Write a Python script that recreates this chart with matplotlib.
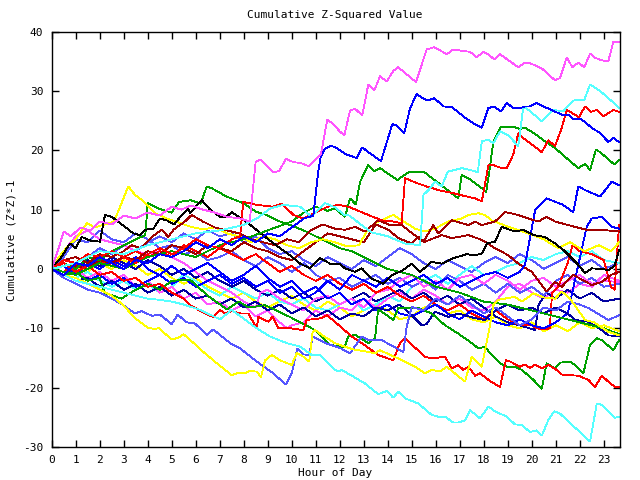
import matplotlib
matplotlib.use("Agg")
import matplotlib.pyplot as plt

# ---- data: (hour, cumulative value) pairs ----
mag1 = [(0,0),(0.25,3),(0.5,6.3),(0.8,5.5),(1.2,7),(1.6,6.5),(2.0,8),(2.5,7.5),(3.0,9),(3.5,8.5),(4.0,9.5),(4.5,9),
        (5.0,10.5),(5.4,10),(5.8,10.7),(6.3,10),(6.8,9.5),(7.3,8.8),(7.85,8.5),(8.25,8.0),(8.5,18.1),(8.7,18.4),(9.23,16.3),
        (9.48,16.5),(9.76,18.6),(10.07,18.0),(10.35,17.9),(10.72,17.3),(11.22,19.4),(11.29,20.9),(11.48,25.2),(11.73,24.4),
        (12.0,23.2),(12.19,22.5),(12.43,26.7),(12.64,27.0),(12.94,25.9),(13.19,31.1),(13.44,30.1),(13.68,32.5),(13.96,31.6),
        (14.23,33.4),(14.44,34.0),(15.18,31.5),(15.62,37.0),(15.94,37.4),(16.46,36.2),(16.73,37.0),(17.43,36.6),(17.71,35.7),
        (17.98,36.6),(18.19,36.2),(18.44,35.3),(18.68,36.2),(19.44,34.0),(19.69,34.7),(19.93,34.7),(20.42,33.8),(20.97,31.8),
        (21.18,32.2),(21.46,35.7),(21.69,34.0),(21.94,34.8),(22.19,34.0),(22.43,36.3),(22.64,35.6),(22.89,35.2),(23.19,35.0),
        (23.40,38.3),(23.64,38.2)]
blue1 = [(0,0),(0.5,-1),(1,1),(1.5,0.5),(2,2),(2.5,1),(3,0),(3.5,1.5),(4,1),(4.5,2.5),(5,2),(5.5,3),(6,4.5),(6.5,3.5),
         (7,5),(7.5,4),(8,5.5),(8.5,4.5),(9,6),(9.5,5.5),(10,7),(10.5,8.5),(10.9,9),(11.1,16.3),(11.2,18.7),(11.39,20.3),
         (11.6,20.7),(11.8,20.6),(12.22,19.4),(12.7,18.7),(12.94,20.5),(13.19,19.7),(13.72,18.2),(14.19,24.4),(14.37,24.2),
         (14.69,22.9),(14.93,27.1),(15.21,29.5),(15.42,28.9),(15.67,28.4),(15.94,28.8),(16.32,27.4),(16.67,27.3),(17.29,25.3),
         (17.64,24.4),(17.92,23.8),(18.19,27.1),(18.4,27.4),(18.72,26.6),(18.96,28.0),(19.23,27.1),(19.51,27.1),(19.72,27.4),
         (19.93,27.4),(20.2,28.0),(20.48,27.4),(20.83,26.8),(21.25,26.0),(21.53,26.0),(21.73,25.3),(22.05,25.3),(22.5,23.8),
         (22.85,22.9),(23.19,21.4),(23.4,22.1),(23.64,21.4)]
cyan1 = [(0,0),(1,1),(2,3),(3,2.5),(4,4),(5,5),(6,6),(7,6.5),(7.98,7.4),(8.54,8.5),(9.1,10.2),(9.65,10.8),(10.35,10.5),
         (10.83,8.8),(11.39,11.1),(11.8,10.4),(12.2,9.1),(12.4,9),(13.3,6.2),(14,5.5),(14.7,4.3),(15.35,4.0),(15.49,12.5),
         (15.7,13.3),(15.97,14.7),(16.25,13.9),(16.5,16.4),(17.1,17.0),(17.6,16.5),(17.75,16.3),(17.92,21.5),(18.19,21.8),
         (18.4,21.2),(18.68,23.2),(19.03,22.5),(19.44,20.7),(19.65,27.4),(19.93,26.6),(20.42,24.9),(20.9,26.8),(21.32,26.6),
         (21.73,28.4),(22.19,28.5),(22.43,31.1),(22.85,30.0),(23.33,28.3),(23.64,27.1)]
green1 = [(0,0),(1,-1),(2,1),(3,0),(4,2),(5,3),(6,2),(7,4),(8,5),(9,6.5),(10,8),(10.5,9.5),(11,10.5),(11.5,9.8),
          (11.8,10.2),(12.22,8.8),(12.43,11.9),(12.67,10.9),(12.85,14.7),(13.19,17.5),(13.44,16.5),(13.68,17.0),(14.4,15.0),
          (14.9,16.4),(15.5,16.4),(16.94,11.9),(17.08,15.8),(17.36,15.3),(17.92,13.6),(18.1,13.0),(18.23,16.3),(18.4,21.5),
          (18.72,24.0),(19.03,23.9),(19.23,24.0),(19.51,23.6),(19.72,23.8),(20.2,22.6),(20.55,21.5),(20.97,20.4),(21.53,18.4),
          (21.94,17.0),(22.22,17.7),(22.43,16.7),(22.67,20.1),(22.85,19.7),(23.44,17.6),(23.64,18.4)]
red1 = [(0,0),(0.5,1.5),(1,1),(1.5,2.5),(2,2),(2.5,3),(3,2),(3.5,1),(4,2.5),(4.5,3.5),(5,2.5),(5.5,3.5),(6,5),(6.5,4),
        (7,3.5),(7.5,5),(7.85,5.5),(7.98,11.3),(8.54,10.8),(9.23,10.5),(9.6,11),(10.07,9.1),(10.5,8.5),(11,9.5),(11.5,10.5),
        (11.94,10.8),(12.36,10.5),(13.19,9.1),(13.75,8.2),(14.23,8.0),(14.58,7.7),(14.72,15.3),(15.2,14.5),(15.7,13.8),
        (16.2,13.2),(16.7,12.8),(17.2,12.3),(17.64,11.9),(17.92,11.4),(18.2,17.6),(18.4,17.5),(18.68,17.1),(18.96,17.0),
        (19.23,19.3),(19.44,22.9),(19.51,22.5),(19.93,21.2),(20.42,19.7),(20.69,21.7),(20.97,20.7),(21.25,23.8),(21.46,26.8),
        (21.67,26.3),(21.97,25.6),(22.22,27.4),(22.47,26.5),(22.71,26.8),(22.98,25.7),(23.4,26.8),(23.64,26.5)]
cyan2 = [(0,0),(0.5,-1),(1,-2),(1.5,-2.5),(2,-3),(2.5,-3.5),(3,-4),(3.5,-4.5),(4,-5),(4.5,-5.2),(5,-5.5),(5.5,-6),
         (6.19,-6.9),(7.01,-8.5),(7.5,-6.9),(8.54,-10.0),(9.1,-11.4),(9.79,-12.5),(10.35,-13.1),(10.83,-14.5),(11.18,-14.5),
         (11.8,-17.0),(11.94,-17.3),(12.08,-17.0),(13.05,-19.3),(13.6,-21.1),(13.96,-20.6),(14.23,-21.7),(14.44,-20.7),
         (14.72,-21.8),(15.28,-22.7),(15.83,-24.6),(16.1,-24.9),(16.39,-24.9),(16.73,-25.9),(16.94,-25.9),(17.22,-25.5),
         (17.43,-23.8),(17.85,-25.2),(18.19,-23.2),(18.47,-24.0),(18.96,-24.9),(19.3,-26.2),(19.58,-26.3),(19.93,-27.5),
         (20.2,-27.2),(20.42,-28.1),(20.69,-25.5),(20.94,-24.0),(21.18,-24.4),(22.43,-29.1),(22.71,-22.7),(22.92,-22.9),
         (23.47,-25.1),(23.64,-24.9)]
yellow1 = [(0,0),(0.5,-1),(1,-1.5),(1.5,-2.5),(2,-3.5),(2.5,-4.5),(2.98,-6.1),(3.47,-8.3),(4.0,-9.9),(4.24,-10.1),
           (4.47,-10.0),(5.0,-11.9),(5.28,-11.6),(5.49,-11.0),(5.97,-12.7),(6.32,-14.0),(6.88,-15.9),(7.5,-17.9),(7.71,-17.6),
           (8.05,-17.6),(8.26,-17.2),(8.54,-17.3),(8.72,-18.2),(8.89,-15.4),(9.17,-14.5),(9.51,-15.4),(10.0,-16.2),
           (10.21,-14.2),(10.49,-14.8),(10.73,-15.6),(10.87,-10.6),(10.97,-10.3),(11.4,-11.5),(11.8,-12.5),(12.5,-13.5),
           (13.47,-14.2),(13.68,-13.7),(14.44,-15.1),(15.14,-16.5),(15.55,-17.6),(15.83,-17.0),(16.18,-17.3),(16.46,-16.5),
           (17.22,-19.0),(17.5,-14.8),(17.92,-16.5),(18.26,-9.5),(18.4,-6.1),(18.6,-5.2),(19.3,-4.7),(19.6,-5.5),(20.07,-4.1),
           (20.5,-4.8),(20.97,-5.0),(21.25,-3.8),(21.6,-5),(22.22,-8.6),(22.6,-9),(23.19,-10.6),(23.64,-11.2)]
slate1 = [(0,0),(0.5,-1.5),(1,-2.5),(1.5,-3.5),(2,-4),(2.5,-5),(2.98,-6.1),(3.47,-7.5),(3.75,-7.1),(4.17,-7.9),(4.51,-7.7),
          (5.0,-9.3),(5.25,-7.7),(5.62,-9.0),(5.97,-9.2),(6.46,-11.1),(6.73,-10.2),(7.43,-12.5),(7.85,-13.4),(8.54,-15.6),
          (9.23,-17.6),(9.76,-19.5),(10.0,-17.6),(10.24,-13.4),(10.49,-14.4),(10.73,-14.5),(10.87,-11.4),(11.4,-12.5),
          (12.0,-13.3),(12.43,-14.2),(12.92,-11.4),(13.19,-12.0),(13.75,-12.0),(14.65,-14.0),(14.79,-9.7),(15.0,-6.4),
          (15.5,-7),(16,-5),(16.5,-6),(17,-4.5),(17.5,-6),(18,-7.5),(18.5,-6.5),(19,-8),(19.5,-9.5),(20,-8.5),(20.5,-6.5),
          (21,-7),(21.5,-5.5),(22,-6),(22.36,-6.6),(23.19,-8.6),(23.64,-7.8)]
red2 = [(0,0),(0.5,1),(1,-0.5),(1.5,0.5),(2,-1),(2.5,-0.5),(3,-2),(3.5,-1.5),(4,-3),(4.5,-2.5),(5,-4),(5.5,-5),(5.76,-6.1),
        (6.53,-7.8),(6.73,-8.1),(7.01,-6.9),(7.22,-7.5),(7.5,-7.1),(7.85,-7.5),(8.19,-7.5),(8.54,-10.0),(8.61,-8.1),(9.03,-8.9),
        (9.2,-8),(9.44,-10.0),(9.93,-10.0),(10.49,-10.3),(10.62,-8.6),(11.25,-8.3),(11.46,-7.8),(11.8,-8.9),(12.5,-11.4),
        (12.92,-12.5),(13.6,-14.5),(14.23,-15.4),(14.51,-12.5),(14.72,-11.7),(15.55,-14.8),(15.83,-15.1),(16.39,-14.8),
        (16.67,-16.8),(16.94,-16.2),(17.15,-17.0),(17.36,-16.5),(17.64,-18.0),(17.85,-17.6),(18.26,-18.9),(18.68,-19.9),
        (18.92,-15.4),(19.1,-15.6),(19.51,-16.5),(19.72,-16.1),(19.93,-16.7),(20.14,-16.1),(20.42,-16.8),(20.69,-16.2),
        (20.97,-16.8),(21.25,-17.8),(21.53,-17.9),(21.94,-18.0),(22.36,-18.7),(22.64,-19.9),(22.92,-18.0),(23.19,-19.0),
        (23.47,-19.9),(23.64,-19.9)]
green2 = [(0,0),(0.5,-1),(1,-0.5),(1.5,-2),(2,-1.5),(2.2,-4),(2.9,-5),(3.5,-3.5),(4,-2.5),(4.5,-3.5),(5,-2),(5.76,-1.8),
          (6.5,-4.5),(7.3,-6.8),(7.8,-5.5),(8.2,-6.5),(8.89,-6.1),(9.93,-8.1),(10.97,-10.3),(11.6,-12.8),(12.0,-13.1),
          (12.2,-13.2),(12.35,-11.4),(12.64,-11.1),(13.19,-12.5),(13.47,-11.7),(13.6,-6.9),(13.75,-7.2),(14.23,-8.6),
          (14.44,-6.6),(15.28,-6.6),(15.83,-7.5),(16.39,-9.5),(16.94,-10.9),(17.5,-12.5),(17.78,-13.4),(18.05,-13.1),
          (18.33,-14.5),(18.68,-15.9),(18.96,-16.5),(19.3,-16.5),(19.58,-17.0),(20.07,-18.7),(20.42,-20.2),(20.62,-15.9),
          (20.97,-16.8),(21.18,-15.8),(21.6,-15.6),(21.8,-16.2),(22.15,-17.6),(22.43,-12.8),(22.71,-11.7),(22.92,-12.0),
          (23.4,-13.7),(23.64,-12.0)]
green3 = [(0,0),(0.5,1),(1,0),(1.5,2),(2,1.5),(2.5,3),(3,4),(3.5,5),(3.9,5.7),(4.0,11.1),(4.43,10.2),(5,9.5),(5.3,11.3),
          (5.8,11.6),(6.2,11.0),(6.46,13.9),(6.67,13.6),(7.29,12.2),(7.98,11.1),(8.54,9.6),(8.96,9.1),(9.51,8.0),(9.93,7.4),
          (10.5,6.5),(11,5.5),(11.5,4.5),(12,3.5),(12.5,3),(13,2),(13.5,1),(14,0),(15,-1),(16,-3),(17,-4),(18,-5.5),(19,-6),
          (20,-7),(21,-8),(22,-9),(23,-10),(23.64,-11)]
black1 = [(0,0),(0.4,2),(0.76,4.3),(1.0,3.5),(1.25,5.4),(1.6,4.8),(2.01,4.6),(2.22,9.1),(2.5,8.8),(3.05,7.1),(3.4,6.0),
          (3.68,5.7),(3.89,6.6),(4.24,6.8),(4.51,8.5),(4.79,8.2),(5.1,7.5),(5.42,9.1),(5.69,10.2),(5.76,9.4),(6.25,11.6),
          (6.6,10),(7.01,8.8),(7.29,8.8),(7.5,9.6),(8.19,7.7),(8.96,5.2),(9.51,3.5),(9.93,2.3),(10.35,0.9),(10.76,0.1),
          (11.18,1.8),(11.6,0.9),(12.0,0.9),(12.22,0.1),(12.64,-0.5),(12.92,0.1),(13.33,-1.6),(13.8,-2.5),(14.2,-1),
          (14.6,-0.3),(15.0,0.9),(15.35,-0.5),(15.83,1.2),(16.25,0.9),(16.73,1.8),(17.29,2.5),(17.64,2.3),(17.92,2.6),
          (18.13,4.3),(18.47,4.6),(18.75,7.1),(19.3,6.3),(19.65,6.6),(20.07,5.7),(20.55,5.4),(20.97,4.3),(21.32,3.2),
          (21.67,1.8),(21.94,0.7),(22.22,-0.7),(22.5,0.1),(22.92,0),(23.19,-0.2),(23.45,0.5),(23.64,3.2)]
darkred1 = [(0,0),(0.5,1.5),(1,2),(1.5,1),(2,2.5),(2.5,2),(3,3),(3.33,4.0),(3.7,3.5),(4.17,5.4),(4.58,6.6),(4.86,5.4),
            (5.07,6.6),(5.55,8.0),(5.83,9.1),(6.3,8),(6.8,7),(7.3,6.5),(7.8,6),(8.3,5),(8.8,4.5),(9.3,4),(9.8,5),(10.3,4.5),
            (10.8,6.5),(11.3,7.5),(11.8,6.8),(12.22,6.6),(12.64,7.1),(13.05,6.3),(13.6,8.2),(14.1,7.4),(14.58,7.4),
            (15.28,5.2),(15.49,4.6),(15.9,7.4),(16.1,6.0),(16.67,8.2),(17.36,7.4),(17.64,8.0),(17.92,7.4),(18.47,8.0),
            (18.89,9.6),(19.44,9.1),(19.86,8.5),(20.28,8.0),(20.62,8.8),(20.97,8.0),(21.8,7.1),(22.29,6.6),(22.92,6.6),
            (23.64,6.3)]
darkred2 = [(0,0),(0.5,-1),(1,0.5),(1.5,0),(2,1.5),(2.5,1),(3,2),(3.5,1.5),(4,3),(4.5,2.5),(5,4),(5.5,3.5),(6,2.5),
            (6.5,4),(7,3.5),(7.5,3),(8,4.5),(8.5,3.5),(9,3),(9.5,2),(10,1.5),(10.5,3),(11,4.5),(11.5,6),(12,5.5),(12.5,5),
            (13,4.5),(13.5,7.5),(14.03,6.6),(14.44,5.2),(15.0,4.3),(15.28,5.4),(15.55,4.6),(16.25,5.7),(16.67,5.2),
            (17.36,5.7),(17.92,4.9),(18.05,4.6),(18.47,3.5),(19.03,2.3),(19.44,0.9),(20.0,-0.5),(20.62,-3.8),(20.97,-2.2),
            (21.25,-3.0),(21.73,-1.0),(22.5,-2.7),(22.92,-2.2),(23.3,-1),(23.64,-0.5)]
yellow2 = [(0,0),(0.3,2),(0.7,4),(1.0,5),(1.46,7.7),(1.8,7),(2.2,7.5),(2.6,8),(3.19,13.9),(3.47,12.5),(3.8,11.5),(4.3,9.4),
           (4.8,8.5),(5.3,7.8),(5.8,7.1),(6.3,6.7),(6.8,7),(7.3,6),(7.8,5.5),(8.3,4.5),(8.8,5.5),(9.3,5),(9.8,4),(10.3,3.5),
           (10.8,4.5),(11.3,5),(11.8,4.5),(12.3,3.8),(12.8,4),(13.19,6.8),(13.47,7.7),(14.23,9.1),(14.58,8.2),(15.14,6.8),
           (15.55,6.3),(15.97,6.8),(16.53,8.0),(17.08,8.5),(17.36,9.1),(17.78,9.4),(18.05,9.1),(18.33,8.2),(19.03,7.1),
           (19.86,6.0),(20.5,5),(21.1,3.5),(21.6,4.5),(22.2,3),(22.8,4),(23.3,3),(23.64,4.5)]
yellow3 = [(0,0),(0.5,-1),(1,0.5),(1.5,-0.5),(2,1),(2.5,0),(3,1.5),(3.5,0.5),(4,-1),(4.5,0),(5,-1.5),(5.5,-2.5),(6,-1.5),
           (6.5,-3),(7,-4),(7.5,-5),(8,-4),(8.5,-5.5),(9,-6.5),(9.5,-5.5),(10,-4.5),(10.5,-6),(11,-7),(11.5,-5.5),(12,-6.5),
           (12.5,-8),(13,-7),(13.5,-6),(14,-7),(14.5,-8.5),(15,-8),(15.5,-6.5),(16,-6),(16.5,-7.5),(17,-7),(17.5,-8.5),
           (18,-9),(18.5,-8),(19,-9.5),(19.5,-10),(20,-9),(20.5,-10.5),(21,-9.5),(21.5,-10.5),(22,-9),(22.5,-10),(23,-9.5),
           (23.64,-10.5)]
blue2 = [(0,0),(0.5,-1),(1,-0.5),(1.5,-2),(2,-1),(2.5,-2.5),(3,-1.5),(3.5,-3),(4,-2),(4.5,-1),(5,-2.5),(5.5,-1.5),(6,-3),
         (6.5,-2),(7,-1),(7.5,-2.5),(8,-1.5),(8.5,-3),(9,-2),(9.5,-4),(10,-3),(10.5,-5),(11,-4),(11.5,-2),(12,-3.5),
         (12.5,-1),(13,-2),(13.5,-3),(14,-1.5),(14.5,-3),(15,-2),(15.5,-1),(16,-2.5),(16.5,-1.5),(17,-3),(17.5,-2),(18,-1),
         (18.5,-0.5),(19,-1.5),(19.5,-0.5),(19.72,0.7),(20.14,9.9),(20.62,11.9),(21.25,10.9),(21.73,9.6),(21.94,13.9),
         (22.22,13.3),(22.85,12.2),(23.33,14.7),(23.64,14.1)]
blue3 = [(0,0),(0.5,0.5),(1,-1),(1.5,1),(2,0),(2.5,1.5),(3,0.5),(3.5,2),(4,0),(4.5,-1),(5,0.5),(5.5,-1),(6,0),(6.5,1),
         (7,-0.5),(7.5,-2),(8,-1),(8.5,0.5),(9,-1.5),(9.5,-3),(10,-2),(10.5,-4),(11,-3),(11.5,-5),(12,-4),(12.5,-6),(13,-5),
         (13.5,-7),(14,-6),(14.5,-7.5),(15,-8),(15.5,-7),(16,-6),(16.5,-7.5),(17,-8.5),(17.5,-7),(18,-8),(18.5,-9),
         (19,-9.5),(19.5,-8.5),(20,-9.5),(20.5,-10),(21,-9),(21.5,-7.5),(21.94,0.7),(22.29,7.1),(22.5,8.5),(22.92,8.8),
         (23.33,7.1),(23.64,6.8)]
red3 = [(0,0),(0.5,-0.5),(1,1),(1.5,0),(2,1.5),(2.5,0.5),(3,2),(3.5,3),(4,2),(4.5,3),(5,2),(5.5,4),(6,3),(6.5,2),(7,3.5),
        (7.5,2.5),(8,1.5),(8.5,2.5),(9,1),(9.5,-0.5),(10,0.5),(10.5,-1),(11,-2),(11.5,-1),(12,-2.5),(12.5,-3.5),(13,-2.5),
        (13.5,-4),(14,-3),(14.5,-4.5),(15,-5.5),(15.5,-4.5),(16,-6),(16.5,-7),(17,-6),(17.5,-7.5),(18,-8.5),(18.5,-7),
        (19,-8.5),(19.5,-9.5),(20,-9.5),(20.2,-10),(20.5,-10.2),(20.75,-10),(20.85,-4),(21.1,-3),(21.5,1),(21.7,4),(22,3),
        (22.5,2.5),(23,1.5),(23.3,-3),(23.45,-3.5),(23.64,7.5)]
mag2 = [(0,0),(0.5,3),(1,5.5),(1.5,6.5),(2,5),(2.5,4.5),(3,4),(3.5,3),(4,2.5),(4.5,3),(5,2),(5.5,1),(6,-0.5),(6.5,-2),
        (7,-3),(7.5,-4),(8,-5.5),(8.5,-6.5),(8.7,-4),(9,-3.5),(9.5,-5),(10,-6),(10.5,-7),(11,-5),(11.5,-4.5),(12,-6),
        (12.5,-5),(13,-6.5),(13.5,-4),(14,-3.5),(14.5,-2),(15,-1),(15.5,-3),(16,-2),(16.5,-3.5),(17,-1.5),(17.5,-1),
        (18,-2.5),(18.5,-1),(19,-2),(19.5,-3.5),(20,-2),(20.5,-1.5),(21,-3),(21.5,-2),(22,-1),(22.5,-2.5),(23,-2),(23.64,-2.2)]
mag3 = [(0,0),(0.5,-1),(1,0),(1.5,-1.5),(2,-0.5),(2.5,-2),(3,-1),(3.5,-3),(4,-2),(4.5,-4),(5,-3),(5.5,-5),(6,-4),(6.5,-6),
        (7,-5.5),(7.5,-7),(8,-6),(8.5,-8),(9,-7),(9.5,-9),(9.8,-10),(10,-9.5),(10.5,-9),(11,-7),(11.5,-8),(12,-6.5),
        (12.5,-7),(13,-5),(13.5,-6.5),(14,-5),(14.5,-4),(15,-5),(15.5,-3.5),(16,-4.5),(16.5,-6),(17,-5),(17.5,-6.5),(18,-7),
        (18.5,-5.5),(19,-3),(19.5,-2.5),(20,-4),(20.5,-5),(21,-3.5),(21.5,-4),(22,-2.5),(22.5,-3),(23,-1),(23.64,-2)]
slate2 = [(0,0),(0.5,2),(1,5),(1.5,4.5),(2,6.5),(2.5,5),(3,4.5),(3.5,6),(4,5),(4.5,3.5),(5,4),(5.5,2.5),(6,3),(6.5,1.5),
          (7,2),(7.5,3),(8,1.5),(8.5,0.5),(9,2),(9.5,1),(10,-0.5),(10.5,1),(11,-1),(11.5,-2),(12,-1.5),(12.5,-3),(13,-2),
          (13.5,-1),(14,-2.5),(14.5,-1.5),(15,-3),(15.5,-2),(16,-3.5),(16.5,-1),(17,-2),(17.5,-3.5),(18,-2.5),(18.5,-4),
          (19,-2.5),(19.5,-4),(20,-3),(20.5,-4.5),(21,-2),(21.5,-1),(22,-2.5),(22.5,-1.5),(23,-3),(23.64,-2.5)]
slate3 = [(0,0),(0.5,-0.5),(1,1),(1.5,2),(2,3.5),(2.5,2.5),(3,4),(3.5,3),(4,4.5),(4.5,5.5),(5,4.5),(5.5,6),(6,5),(6.5,6.5),
          (7,5.5),(7.5,6),(8,4.5),(8.5,5.5),(9,3.5),(9.5,2.5),(10,3),(10.5,1.5),(11,0.5),(11.5,2),(12,1),(12.5,0),(13,1.5),
          (13.5,0.5),(14,2),(14.5,3.5),(15,2.5),(15.5,1),(16,0),(16.5,1.5),(17,0.5),(17.5,-0.5),(18,1),(18.5,2),(19,1),
          (19.5,2.5),(20,1.5),(20.5,0),(21,1),(21.5,2),(22,0.5),(22.5,1.5),(23,0),(23.64,1)]
cyan3 = [(0,0),(0.5,-1),(1,-1.5),(1.5,-0.5),(2,-2),(2.5,-3),(3,-2),(3.5,-3.5),(4,-2.5),(4.5,-4),(5,-3),(5.5,-1),(6,-2),
         (6.5,-3.5),(7,-4.5),(7.5,-3),(8,-4),(8.5,-5),(9,-4),(9.5,-5.5),(10,-6),(10.5,-5),(11,-6.5),(11.5,-7),(12,-6),
         (12.5,-5),(13,-7),(13.5,-6),(14,-4.5),(14.5,-5.5),(15,-3),(15.5,-2),(16,-1),(16.5,-2.5),(17,-1),(17.5,0.5),(18,-1),
         (18.5,-0.5),(19,0.5),(19.5,1),(20,2),(20.5,1.5),(21,2.5),(21.5,3),(22,2),(22.5,3),(23,1.5),(23.64,1)]
navy1 = [(0,0),(0.5,-1),(1,-2),(1.5,-1.5),(2,-3),(2.5,-2),(3,-3.5),(3.5,-2.5),(4,-4),(4.5,-3),(5,-4.5),(5.5,-3.5),(6,-5),
         (6.5,-4.5),(7,-6),(7.5,-5),(8,-6.5),(8.5,-5.5),(9,-7),(9.5,-6),(10,-7.5),(10.5,-6.5),(11,-8),(11.5,-7),(12,-8.5),
         (12.5,-7.5),(13,-8),(13.5,-6.5),(14,-7),(14.5,-6),(15,-7.8),(15.42,-9.5),(15.62,-9.3),(15.97,-7.2),(16.53,-8.1),
         (16.94,-7.5),(17.64,-8.3),(18.05,-8.6),(18.5,-7),(19,-6),(19.5,-7),(20,-6.5),(20.5,-7.5),(21,-6.5),(21.5,-7.5),
         (21.8,-8.6),(22.36,-8.9),(22.92,-10.3),(23.19,-11.2),(23.64,-11.3)]
navy2 = [(0,0),(0.5,1),(1,0),(1.5,1.5),(2,0.5),(2.5,2),(3,1),(3.5,0),(4,1.5),(4.5,0.5),(5,-1),(5.5,0),(6,-1.5),(6.5,-0.5),
         (7,-2),(7.5,-3),(8,-2),(8.5,-3.5),(9,-4.5),(9.5,-3.5),(10,-5),(10.5,-4),(11,-5.5),(11.5,-4.5),(12,-6),(12.5,-5),
         (13,-4),(13.5,-5.5),(14,-4.5),(14.5,-3.5),(15,-5),(15.5,-4),(16,-5.5),(16.5,-4.5),(17,-6),(17.5,-5),(18,-6.5),
         (18.5,-8),(19,-9),(19.5,-9.5),(20.14,-10.3),(20.28,-6.1),(20.6,-4),(21,-5),(21.5,-3.5),(22,-5),(22.5,-4),(23,-5.5),
         (23.64,-5)]

MAGENTA, BLUE, CYAN, GREEN, RED = "#ff55ff", "#0000ff", "#55ffff", "#00a000", "#ff0000"
DARKRED, YELLOW, SLATE, BLACK, NAVY = "#a00000", "#ffff00", "#5555ff", "#000000", "#0000a0"

series = [
    (yellow3, YELLOW), (slate3, SLATE), (cyan3, CYAN), (mag3, MAGENTA), (navy2, NAVY), (slate2, SLATE),
    (mag2, MAGENTA), (red3, RED), (blue3, BLUE), (navy1, NAVY), (darkred2, DARKRED), (blue2, BLUE),
    (green3, GREEN), (yellow2, YELLOW), (darkred1, DARKRED), (black1, BLACK), (green2, GREEN),
    (red2, RED), (slate1, SLATE), (yellow1, YELLOW), (cyan2, CYAN), (green1, GREEN), (red1, RED),
    (cyan1, CYAN), (blue1, BLUE), (mag1, MAGENTA),
]

hour_ticks = list(range(0, 24))
value_ticks = list(range(-30, 41, 10))

FONT = "DejaVu Sans Mono"
fig = plt.figure(figsize=(6.4, 4.8), dpi=100)
ax = fig.add_axes([51.7 / 640, (480 - 446.9) / 480, (620.3 - 51.7) / 640, (446.9 - 31.7) / 480])

for pts, col in series:
    hs = [p[0] for p in pts]
    vs = [p[1] for p in pts]
    ax.plot(hs, vs, color=col, lw=0.6, antialiased=False, solid_joinstyle="miter")

ax.set_xlim(0, 23.69)
ax.set_ylim(-30, 40)
ax.set_xticks(hour_ticks)
ax.set_yticks(value_ticks)
ax.set_xticklabels([str(h) for h in hour_ticks], family=FONT, fontsize=8)
ax.set_yticklabels([str(v) for v in value_ticks], family=FONT, fontsize=8)
ax.tick_params(direction="in", length=5, width=1, top=True, right=True, pad=6)
for s in ax.spines.values():
    s.set_linewidth(1.0)

fig.text(0.523, 1 - 15 / 480, "Cumulative Z-Squared Value", ha="center", va="center", family=FONT, fontsize=8)
fig.text(0.523, 1 - 473 / 480, "Hour of Day", ha="center", va="center", family=FONT, fontsize=8)
fig.text(12 / 640, 1 - 240 / 480, "Cumulative (Z*Z)-1", ha="center", va="center", rotation=90, family=FONT, fontsize=8)

fig.savefig("out.png", dpi=100)
